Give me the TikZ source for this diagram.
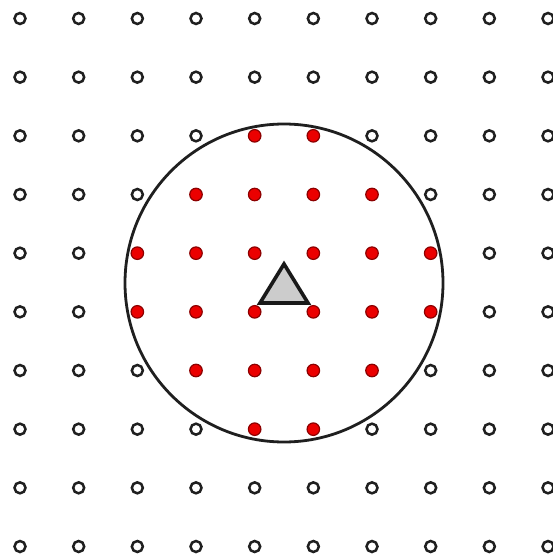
\documentclass[tikz,border=0pt]{standalone}
\begin{document}
\begin{tikzpicture}[x=1pt,y=-1pt,
  opendot/.style={circle,draw=black!88,line width=2.5pt,fill=white,minimum size=11pt,inner sep=0pt},
  reddot/.style={circle,draw=red!55!black,line width=1.2pt,fill=red!92!black,minimum size=12.5pt,inner sep=0pt},
  bigring/.style={draw=black!88,line width=2.8pt},
  query/.style={draw=black!90,line width=3.6pt,fill=black!20,line join=miter}]
\useasboundingbox (0,0) rectangle (552,556);
\coordinate (c) at (284,283);
\draw[bigring] (c) circle (159);
\foreach \i in {0,...,9}{
  \foreach \j in {0,...,9}{
    \pgfmathsetmacro{\px}{20+58.667*\i}
    \pgfmathsetmacro{\py}{18.5+58.667*\j}
    \pgfmathsetmacro{\dd}{(\i-4.5)*(\i-4.5)+(\j-4.5)*(\j-4.5)}
    \pgfmathparse{\dd<7 ? 1 : 0}
    \ifnum\pgfmathresult=1
      \node[reddot] (p-\i-\j) at (\px,\py) {};
    \else
      \node[opendot] (p-\i-\j) at (\px,\py) {};
    \fi
  }
}
\coordinate (t1) at (284,264);
\coordinate (t2) at (260,303);
\coordinate (t3) at (308,303);
\draw[query] (t1) -- (t2) -- (t3) -- cycle;
\end{tikzpicture}
\end{document}
